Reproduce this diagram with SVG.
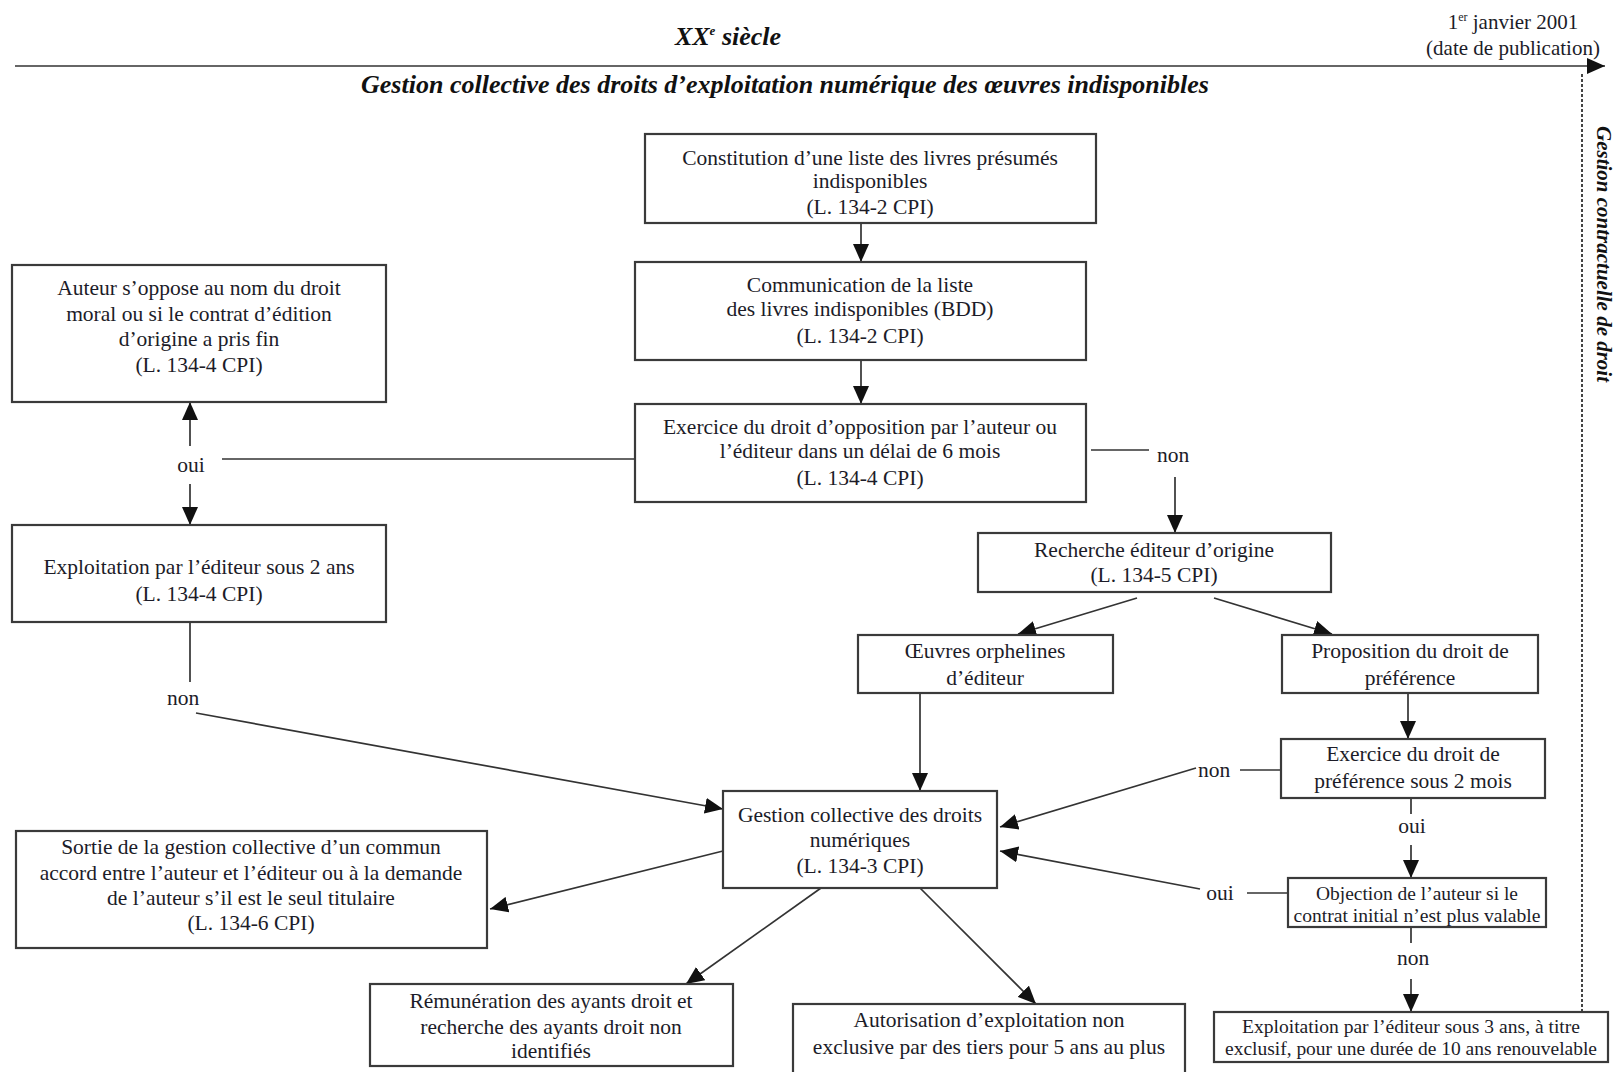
<svg xmlns="http://www.w3.org/2000/svg" width="1616" height="1072" viewBox="0 0 1616 1072">
<defs>
<style>
.box{fill:#fff;stroke:#3a3a3a;stroke-width:2.2}
.t{font-family:"Liberation Serif","Times New Roman",serif;font-size:21.5px;fill:#1c1c28;text-anchor:middle}
.s{font-size:18px}
.lbl{font-family:"Liberation Serif","Times New Roman",serif;font-size:21.5px;fill:#1c1c28;text-anchor:middle}
.hd{font-family:"Liberation Serif","Times New Roman",serif;font-weight:bold;font-style:italic;fill:#111;text-anchor:middle}
.dt{font-family:"Liberation Serif","Times New Roman",serif;font-size:21px;fill:#1c1c28;text-anchor:middle}
.ln{fill:none;stroke:#333;stroke-width:1.7}
.ar{fill:none;stroke:#333;stroke-width:1.7;marker-end:url(#ah)}
</style>
<marker id="ah" viewBox="0 0 18 16" refX="18" refY="8" markerWidth="18" markerHeight="16" markerUnits="userSpaceOnUse" orient="auto">
<path d="M0,0 L18,8 L0,16 Z" fill="#111"/>
</marker>
</defs>
<rect width="1616" height="1072" fill="#fff"/>

<g id="header">
<text class="hd" x="728" y="45" font-size="26">XX<tspan font-size="13" dy="-10">e</tspan><tspan dy="10"> siècle</tspan></text>
<text class="dt" x="1513" y="29">1<tspan font-size="12" dy="-8">er</tspan><tspan dy="8"> janvier 2001</tspan></text>
<text class="dt" x="1513" y="55">(date de publication)</text>
<line x1="15" y1="66" x2="1605" y2="66" class="ar"/>
<text class="hd" x="785" y="93" font-size="26">Gestion collective des droits d’exploitation numérique des œuvres indisponibles</text>
<line x1="1582" y1="74" x2="1582" y2="1012" stroke="#444" stroke-width="2" stroke-dasharray="3,2"/>
<text class="hd" font-size="21" transform="translate(1597,254) rotate(90)">Gestion contractuelle de droit</text>
</g>

<g id="connectors">
<line class="ar" x1="861" y1="223" x2="861" y2="262"/>
<line class="ar" x1="861" y1="360" x2="861" y2="404"/>
<line class="ln" x1="635" y1="459" x2="222" y2="459"/>
<line class="ar" x1="190" y1="446" x2="190" y2="402"/>
<line class="ar" x1="190" y1="484" x2="190" y2="525"/>
<line class="ln" x1="1091" y1="450" x2="1149" y2="450"/>
<line class="ar" x1="1175" y1="477" x2="1175" y2="533"/>
<line class="ar" x1="1137" y1="598" x2="1018" y2="634"/>
<line class="ar" x1="1214" y1="598" x2="1332" y2="634"/>
<line class="ar" x1="1408" y1="693" x2="1408" y2="739"/>
<line class="ln" x1="1281" y1="770" x2="1240" y2="770"/>
<line class="ar" x1="1196" y1="768" x2="1000" y2="827"/>
<line class="ln" x1="1411" y1="798" x2="1411" y2="814"/>
<line class="ar" x1="1411" y1="845" x2="1411" y2="878"/>
<line class="ln" x1="1288" y1="893" x2="1247" y2="893"/>
<line class="ar" x1="1200" y1="889" x2="1000" y2="851"/>
<line class="ln" x1="1411" y1="927" x2="1411" y2="943"/>
<line class="ar" x1="1411" y1="979" x2="1411" y2="1012"/>
<line class="ln" x1="190" y1="622" x2="190" y2="682"/>
<line class="ar" x1="196" y1="713" x2="723" y2="809"/>
<line class="ar" x1="920" y1="693" x2="920" y2="791"/>
<line class="ar" x1="723" y1="851" x2="490" y2="909"/>
<line class="ar" x1="821" y1="888" x2="686" y2="984"/>
<line class="ar" x1="920" y1="888" x2="1036" y2="1004"/>
<text class="lbl" x="191" y="472">oui</text>
<text class="lbl" x="1173" y="462">non</text>
<text class="lbl" x="183" y="705">non</text>
<text class="lbl" x="1214" y="777">non</text>
<text class="lbl" x="1412" y="833">oui</text>
<text class="lbl" x="1220" y="900">oui</text>
<text class="lbl" x="1413" y="965">non</text>
</g>

<g id="n1"><rect class="box" x="645" y="134" width="451" height="89"/>
<text class="t" x="870" y="165">Constitution d’une liste des livres présumés</text>
<text class="t" x="870" y="188">indisponibles</text>
<text class="t" x="870" y="214">(L. 134-2 CPI)</text></g>

<g id="n2"><rect class="box" x="635" y="262" width="451" height="98"/>
<text class="t" x="860" y="292">Communication de la liste</text>
<text class="t" x="860" y="316">des livres indisponibles (BDD)</text>
<text class="t" x="860" y="343">(L. 134-2 CPI)</text></g>

<g id="n3"><rect class="box" x="635" y="404" width="451" height="98"/>
<text class="t" x="860" y="434">Exercice du droit d’opposition par l’auteur ou</text>
<text class="t" x="860" y="458">l’éditeur dans un délai de 6 mois</text>
<text class="t" x="860" y="485">(L. 134-4 CPI)</text></g>

<g id="n4"><rect class="box" x="12" y="265" width="374" height="137"/>
<text class="t" x="199" y="295">Auteur s’oppose au nom du droit</text>
<text class="t" x="199" y="321">moral ou si le contrat d’édition</text>
<text class="t" x="199" y="346">d’origine a pris fin</text>
<text class="t" x="199" y="372">(L. 134-4 CPI)</text></g>

<g id="n5"><rect class="box" x="12" y="525" width="374" height="97"/>
<text class="t" x="199" y="574">Exploitation par l’éditeur sous 2 ans</text>
<text class="t" x="199" y="601">(L. 134-4 CPI)</text></g>

<g id="n6"><rect class="box" x="978" y="533" width="353" height="59"/>
<text class="t" x="1154" y="557">Recherche éditeur d’origine</text>
<text class="t" x="1154" y="582">(L. 134-5 CPI)</text></g>

<g id="n7"><rect class="box" x="858" y="635" width="255" height="58"/>
<text class="t" x="985" y="658">Œuvres orphelines</text>
<text class="t" x="985" y="685">d’éditeur</text></g>

<g id="n8"><rect class="box" x="1282" y="635" width="256" height="58"/>
<text class="t" x="1410" y="658">Proposition du droit de</text>
<text class="t" x="1410" y="685">préférence</text></g>

<g id="n9"><rect class="box" x="1281" y="739" width="264" height="59"/>
<text class="t" x="1413" y="761">Exercice du droit de</text>
<text class="t" x="1413" y="788">préférence sous 2 mois</text></g>

<g id="n10"><rect class="box" x="723" y="791" width="274" height="97"/>
<text class="t" x="860" y="822">Gestion collective des droits</text>
<text class="t" x="860" y="847">numériques</text>
<text class="t" x="860" y="873">(L. 134-3 CPI)</text></g>

<g id="n11"><rect class="box" x="16" y="831" width="471" height="117"/>
<text class="t" x="251" y="854">Sortie de la gestion collective d’un commun</text>
<text class="t" x="251" y="880">accord entre l’auteur et l’éditeur ou à la demande</text>
<text class="t" x="251" y="905">de l’auteur s’il est le seul titulaire</text>
<text class="t" x="251" y="930">(L. 134-6 CPI)</text></g>

<g id="n12"><rect class="box" x="1288" y="878" width="258" height="49"/>
<text class="t s" x="1417" y="900" textLength="202" lengthAdjust="spacingAndGlyphs">Objection de l’auteur si le</text>
<text class="t s" x="1417" y="922" textLength="247" lengthAdjust="spacingAndGlyphs">contrat initial n’est plus valable</text></g>

<g id="n13"><rect class="box" x="370" y="984" width="363" height="82"/>
<text class="t" x="551" y="1008">Rémunération des ayants droit et</text>
<text class="t" x="551" y="1034">recherche des ayants droit non</text>
<text class="t" x="551" y="1058">identifiés</text></g>

<g id="n14"><rect class="box" x="793" y="1004" width="392" height="80"/>
<text class="t" x="989" y="1027">Autorisation d’exploitation non</text>
<text class="t" x="989" y="1054">exclusive par des tiers pour 5 ans au plus</text></g>

<g id="n15"><rect class="box" x="1214" y="1012" width="394" height="50"/>
<text class="t s" x="1411" y="1033" textLength="338" lengthAdjust="spacingAndGlyphs">Exploitation par l’éditeur sous 3 ans, à titre</text>
<text class="t s" x="1411" y="1055" textLength="372" lengthAdjust="spacingAndGlyphs">exclusif, pour une durée de 10 ans renouvelable</text></g>
</svg>
